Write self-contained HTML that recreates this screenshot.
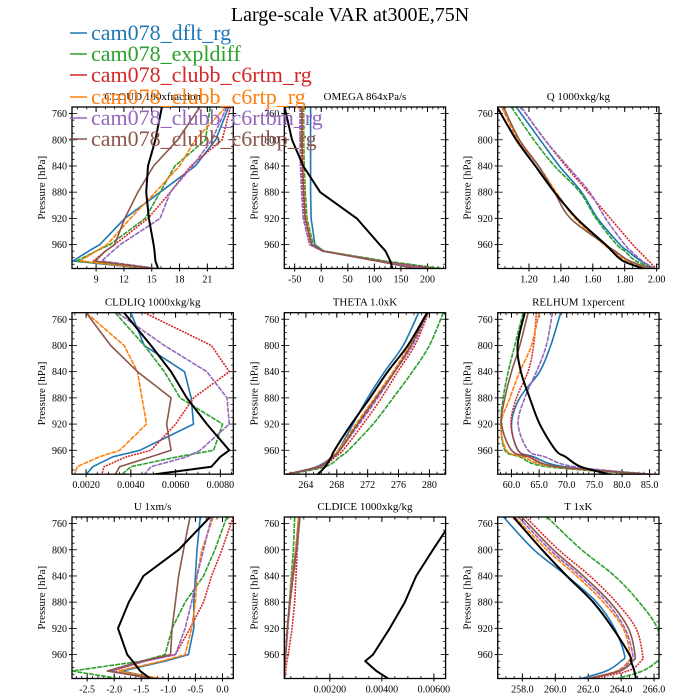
<!DOCTYPE html>
<html><head><meta charset="utf-8">
<style>
html,body{margin:0;padding:0;background:#fff;}
svg{display:block;font-family:"Liberation Serif","DejaVu Serif",serif;}
</style></head>
<body>
<svg id="chart" width="700" height="700" viewBox="0 0 700 700">
<text x="350" y="21" text-anchor="middle" font-size="20" fill="#000">Large-scale VAR at300E,75N</text>
</svg>
<script>
// ---- data ----
const pressure = [750, 800, 840, 880, 920, 960, 970, 985, 997];
const seriesNames = ["cam078_dflt_rg","cam078_expldiff","cam078_clubb_c6rtm_rg","cam078_clubb_c6rtp_rg","cam078_clubb_c6rtbm_rg","cam078_clubb_c6rtbp_rg","obs"];
const seriesColors = ["#1f77b4","#2ca02c","#d62728","#ff7f0e","#9467bd","#8c564b","#000000"];
const seriesDash = ["", "5,1", "2,1", "5,1", "5,1", "", ""];

const cloudVals = [
 [23.3,21.9,19.7,15.9,12.1,9.4,8.2,6.5,14.8],
 [21.3,20.8,17.5,15.9,14.3,10.5,9.0,6.9,15.4],
 [23.5,22.6,19.2,17.0,14.6,11.0,10.0,8.7,15.5],
 [23.0,19.7,18.0,15.4,12.7,10.2,9.0,7.3,15.0],
 [23.1,21.5,19.4,17.0,15.9,11.6,10.8,9.6,15.8],
 [20.2,17.8,15.2,13.5,12.1,11.0,10.0,8.9,15.5],
 [16.1,15.4,14.6,14.4,14.7,15.2,15.3,15.4,15.7]];
const omegaVals = [
 [-20,-20,-20,-20,-19,-12,5,110,215],
 [-33,-33,-32,-30,-27,-15,5,120,230],
 [-38,-37,-36,-35,-32,-20,3,110,215],
 [-35,-35,-34,-32,-29,-17,4,105,190],
 [-40,-40,-39,-37,-34,-22,2,105,200],
 [-36,-36,-35,-33,-30,-18,4,105,180],
 [-69,-55,-34,-2,67,110,121,130,134]];
const qVals = [
 [1.12,1.27,1.39,1.53,1.63,1.77,1.82,1.90,1.99],
 [1.09,1.23,1.36,1.52,1.62,1.75,1.80,1.87,1.99],
 [1.15,1.30,1.43,1.57,1.71,1.85,1.89,1.95,2.00],
 [1.03,1.13,1.26,1.37,1.49,1.67,1.73,1.81,1.96],
 [1.15,1.30,1.44,1.58,1.68,1.80,1.84,1.91,1.99],
 [1.04,1.14,1.26,1.36,1.46,1.68,1.74,1.83,1.97],
 [1.00,1.12,1.24,1.36,1.50,1.68,1.72,1.79,1.92]];
const cldliqVals = [
 [0.0040,0.0046,0.0064,0.0067,0.0068,0.0044,0.0032,0.0023,0.0020],
 [0.0033,0.0046,0.0055,0.0062,0.0081,0.0077,0.0061,0.0040,0.0036],
 [0.0046,0.0076,0.0084,0.0068,0.0060,0.0049,0.0038,0.0028,0.0027],
 [0.0020,0.0037,0.0043,0.0045,0.0047,0.0035,0.0026,0.0016,0.0015],
 [0.0034,0.0055,0.0074,0.0083,0.0084,0.0071,0.0065,0.0049,0.0046],
 [0.0020,0.0031,0.0043,0.0058,0.0056,0.0058,0.0049,0.0035,0.0033],
 [0.0037,0.0049,0.0058,0.0065,0.0074,0.0084,0.0080,0.0076,0.0050]];
const thetaVals = [
 [278.6,276.6,274.2,272.0,270.1,268.2,267.4,265.4,261.3],
 [281.8,280.0,277.8,275.3,272.7,269.5,268.4,266.5,261.5],
 [279.9,278.1,275.9,273.8,271.4,268.8,267.8,266.0,261.3],
 [279.7,277.4,275.3,272.9,270.5,268.2,267.3,265.6,261.3],
 [279.8,277.8,275.5,273.3,270.9,268.4,267.6,265.8,261.3],
 [279.8,277.6,275.5,273.1,270.7,268.4,267.5,265.6,261.3],
 [279.7,277.2,274.6,272.3,269.9,267.7,267.3,266.5,265.5]];
const relhumVals = [
 [68.9,67.1,65.1,61.5,60.0,61.2,64.0,69.5,85.6],
 [62.1,60.6,59.4,58.5,58.1,58.8,61.5,66.5,85.0],
 [64.5,64.0,63.0,60.9,59.9,61.2,63.5,68.3,85.6],
 [65.0,63.6,61.5,59.7,58.1,59.1,62.0,67.7,85.6],
 [67.4,66.3,64.5,62.4,61.2,63.0,66.0,71.3,85.6],
 [63.0,61.5,60.0,58.8,58.2,60.0,63.0,68.3,85.6],
 [62.4,61.1,61.7,63.3,65.1,68.0,69.8,72.5,77.9]];
const uVals = [
 [-0.41,-0.47,-0.50,-0.53,-0.53,-0.63,-1.06,-1.85,-1.20],
 [0.08,-0.14,-0.35,-0.69,-0.93,-1.06,-1.49,-2.78,-1.90],
 [0.20,-0.01,-0.20,-0.35,-0.60,-0.87,-1.43,-2.04,-1.30],
 [-0.17,-0.38,-0.47,-0.50,-0.57,-0.69,-1.12,-1.92,-1.12],
 [-0.20,-0.35,-0.47,-0.57,-0.69,-0.87,-1.43,-2.07,-1.30],
 [-0.60,-0.72,-0.81,-0.87,-0.93,-0.96,-1.49,-2.13,-1.24],
 [-0.23,-0.81,-1.46,-1.73,-1.93,-1.76,-1.66,-1.52,-1.33]];
const cldiceVals = [
 [0.00080,0.00070,0.00055,0.00045,0.00037,0.00030,0.00028,0.00026,0.00025],
 [0.00065,0.00060,0.00052,0.00045,0.00038,0.00030,0.00028,0.00026,0.00025],
 [0.00082,0.00075,0.00070,0.00065,0.00055,0.00040,0.00035,0.00030,0.00027],
 [0.00080,0.00068,0.00055,0.00045,0.00036,0.00030,0.00028,0.00026,0.00025],
 [0.00085,0.00075,0.00060,0.00048,0.00038,0.00031,0.00029,0.00026,0.00025],
 [0.00085,0.00072,0.00058,0.00046,0.00036,0.00030,0.00028,0.00026,0.00025],
 [0.00680,0.00596,0.00532,0.00488,0.00430,0.00366,0.00336,0.00379,0.00426]];
const tVals = [
 [256.85,258.7,260.7,262.5,263.6,264.2,264.0,263.1,261.5],
 [259.5,261.6,263.6,265.1,266.2,266.4,266.2,265.3,263.7],
 [258.2,260.2,262.1,263.7,264.9,265.3,265.2,264.4,262.1],
 [257.55,259.48,261.3,262.92,264.13,264.54,264.44,263.73,261.9],
 [257.76,259.68,261.5,263.12,264.23,264.7,264.54,263.83,261.9],
 [257.96,259.88,261.7,263.32,264.44,264.84,264.7,263.93,261.9],
 [257.45,259.2,260.7,262.3,263.5,264.5,264.6,264.8,264.9]];

const yTicks = [760, 800, 840, 880, 920, 960];
const cloudTicks = [9,12,15,18,21], cloudLabels = ["9","12","15","18","21"];
const omegaTicks = [-50,0,50,100,150,200], omegaLabels = ["-50","0","50","100","150","200"];
const qTicks = [1.2,1.4,1.6,1.8,2.0], qLabels = ["1.20","1.40","1.60","1.80","2.00"];
const cldliqTicks = [0.002,0.004,0.006,0.008], cldliqLabels = ["0.0020","0.0040","0.0060","0.0080"];
const thetaTicks = [264,268,272,276,280], thetaLabels = ["264","268","272","276","280"];
const relhumTicks = [60,65,70,75,80,85], relhumLabels = ["60.0","65.0","70.0","75.0","80.0","85.0"];
const uTicks = [-2.5,-2.0,-1.5,-1.0,-0.5,0.0], uLabels = ["-2.5","-2.0","-1.5","-1.0","-0.5","0.0"];
const cldiceTicks = [0.002,0.004,0.006], cldiceLabels = ["0.00200","0.00400","0.00600"];
const tTicks = [258,260,262,264,266], tLabels = ["258.0","260.0","262.0","264.0","266.0"];

// ---- rendering ----
const NS = "http://www.w3.org/2000/svg";
const svg = document.getElementById("chart");
function mk(tag, attrs, parent){ const e=document.createElementNS(NS,tag); for(const k in attrs) e.setAttribute(k,attrs[k]); (parent||svg).appendChild(e); return e; }

const colX = [72, 284.3, 497.7], rowY = [107, 312.7, 517];
const PW = 161.3, PH = 161.5, PMIN = 750, PMAX = 996.5;

const panels = [
 {key:"cloud", title:"CLOUD  100xfraction", vals:cloudVals, xmin:6.4, xmax:23.8, ticks:cloudTicks, labels:cloudLabels, minor:1, smooth:false},
 {key:"omega", title:"OMEGA  864xPa/s", vals:omegaVals, xmin:-69.5, xmax:234, ticks:omegaTicks, labels:omegaLabels, minor:10, smooth:false},
 {key:"q", title:"Q  1000xkg/kg", vals:qVals, xmin:1.004, xmax:2.015, ticks:qTicks, labels:qLabels, minor:0.05, smooth:true},
 {key:"cldliq", title:"CLDLIQ  1000xkg/kg", vals:cldliqVals, xmin:0.00137, xmax:0.00858, ticks:cldliqTicks, labels:cldliqLabels, minor:0.0005, smooth:false},
 {key:"theta", title:"THETA  1.0xK", vals:thetaVals, xmin:261.2, xmax:282.1, ticks:thetaTicks, labels:thetaLabels, minor:1, smooth:true},
 {key:"relhum", title:"RELHUM  1xpercent", vals:relhumVals, xmin:57.5, xmax:86.7, ticks:relhumTicks, labels:relhumLabels, minor:1, smooth:true},
 {key:"u", title:"U  1xm/s", vals:uVals, xmin:-2.78, xmax:0.2, ticks:uTicks, labels:uLabels, minor:0.1, smooth:false},
 {key:"cldice", title:"CLDICE  1000xkg/kg", vals:cldiceVals, xmin:0.00025, xmax:0.00645, ticks:cldiceTicks, labels:cldiceLabels, minor:0.0005, smooth:false},
 {key:"t", title:"T  1xK", vals:tVals, xmin:256.5, xmax:266.3, ticks:tTicks, labels:tLabels, minor:0.5, smooth:true}
];

function pathD(pts, smooth){
  if (!smooth) return pts.map((p,k)=>(k?"L":"M")+p[0].toFixed(1)+","+p[1].toFixed(1)).join(" ");
  let d = "M"+pts[0][0].toFixed(1)+","+pts[0][1].toFixed(1);
  for (let k=0;k<pts.length-1;k++){
    const p0=pts[Math.max(0,k-1)], p1=pts[k], p2=pts[k+1], p3=pts[Math.min(pts.length-1,k+2)];
    const c1=[p1[0]+(p2[0]-p0[0])/6, p1[1]+(p2[1]-p0[1])/6];
    const c2=[p2[0]-(p3[0]-p1[0])/6, p2[1]-(p3[1]-p1[1])/6];
    d += " C"+c1[0].toFixed(1)+","+c1[1].toFixed(1)+" "+c2[0].toFixed(1)+","+c2[1].toFixed(1)+" "+p2[0].toFixed(1)+","+p2[1].toFixed(1);
  }
  return d;
}

panels.forEach((pn, i) => {
  const x0 = colX[i%3], y0 = rowY[Math.floor(i/3)];
  const g = mk("g", {});
  
  
  const xs = v => x0 + (v - pn.xmin) / (pn.xmax - pn.xmin) * PW;
  const ys = p => y0 + (p - PMIN) / (PMAX - PMIN) * PH;
  const clipId = "clip" + i;
  const cp = mk("clipPath", {id: clipId}, g);
  mk("rect", {x:x0, y:y0, width:PW, height:PH}, cp);

  const t = mk("text", {x:x0+PW/2, y:y0-7, "text-anchor":"middle", "font-size":"11"}, g);
  t.textContent = pn.title;
  
  

  const yl = mk("text", {x:0, y:0, "text-anchor":"middle", "font-size":"11", transform:`translate(${x0-27},${y0+PH/2}) rotate(-90)`}, g);
  yl.textContent = "Pressure [hPa]";
  
  

  for (let p = 760; p <= 990; p += 10) {
    const yy = ys(p), len = ((p-760)%40===0 && p<=960) ? 5 : 2.5;
    mk("line", {x1:x0, x2:x0+len, y1:yy, y2:yy, stroke:"#000", "stroke-width":"0.8"}, g);
    mk("line", {x1:x0+PW, x2:x0+PW-len, y1:yy, y2:yy, stroke:"#000", "stroke-width":"0.8"}, g);
  }
  yTicks.forEach(p => {
    const yy = ys(p);
    mk("line", {x1:x0-3, x2:x0, y1:yy, y2:yy, stroke:"#000", "stroke-width":"1"}, g);
    mk("line", {x1:x0+PW, x2:x0+PW+3, y1:yy, y2:yy, stroke:"#000", "stroke-width":"1"}, g);
    const tl = mk("text", {x:x0-5, y:yy+3.5, "text-anchor":"end", "font-size":"10"}, g);
    tl.textContent = String(p);
    
    
  });
  const mstart = Math.ceil(pn.xmin / pn.minor);
  for (let k = mstart; k * pn.minor <= pn.xmax; k++) {
    const xx = xs(k * pn.minor);
    mk("line", {x1:xx, x2:xx, y1:y0, y2:y0+2.5, stroke:"#000", "stroke-width":"0.8"}, g);
    mk("line", {x1:xx, x2:xx, y1:y0+PH, y2:y0+PH-2.5, stroke:"#000", "stroke-width":"0.8"}, g);
  }
  pn.ticks.forEach((v, j) => {
    const xx = xs(v);
    mk("line", {x1:xx, x2:xx, y1:y0, y2:y0+5, stroke:"#000", "stroke-width":"1"}, g);
    mk("line", {x1:xx, x2:xx, y1:y0+PH, y2:y0+PH-5, stroke:"#000", "stroke-width":"1"}, g);
    mk("line", {x1:xx, x2:xx, y1:y0+PH, y2:y0+PH+3, stroke:"#000", "stroke-width":"1"}, g);
    const tl = mk("text", {x:xx, y:y0+PH+14, "text-anchor":"middle", "font-size":"10"}, g);
    tl.textContent = pn.labels[j];
    
    
  });

  const lg = mk("g", {"clip-path":`url(#${clipId})`}, g);
  pn.vals.forEach((arr, s) => {
    const pts = arr.map((v, k) => [xs(v), ys(pressure[k])]);
    const path = mk("path", {d:pathD(pts, pn.smooth), fill:"none", stroke:seriesColors[s], "stroke-width": s===6 ? "2" : "1.6", "stroke-linejoin":"round"}, lg);
    if (seriesDash[s]) path.setAttribute("stroke-dasharray", seriesDash[s]);
    
    
  });
  mk("rect", {x:x0, y:y0, width:PW, height:PH, fill:"none", stroke:"#000", "stroke-width":"1.3"}, g);
});

const legendY = [33, 54, 75, 97, 118, 139];
for (let s = 0; s < 6; s++) {
  const lg = mk("g", {});
  
  
  mk("line", {x1:70, x2:87, y1:legendY[s], y2:legendY[s], stroke:seriesColors[s], "stroke-width":"1.5"}, lg);
  const tx = mk("text", {x:91, y:legendY[s]+7, "font-size":"22", fill:seriesColors[s]}, lg);
  tx.textContent = seriesNames[s];
}
</script>
</body></html>
